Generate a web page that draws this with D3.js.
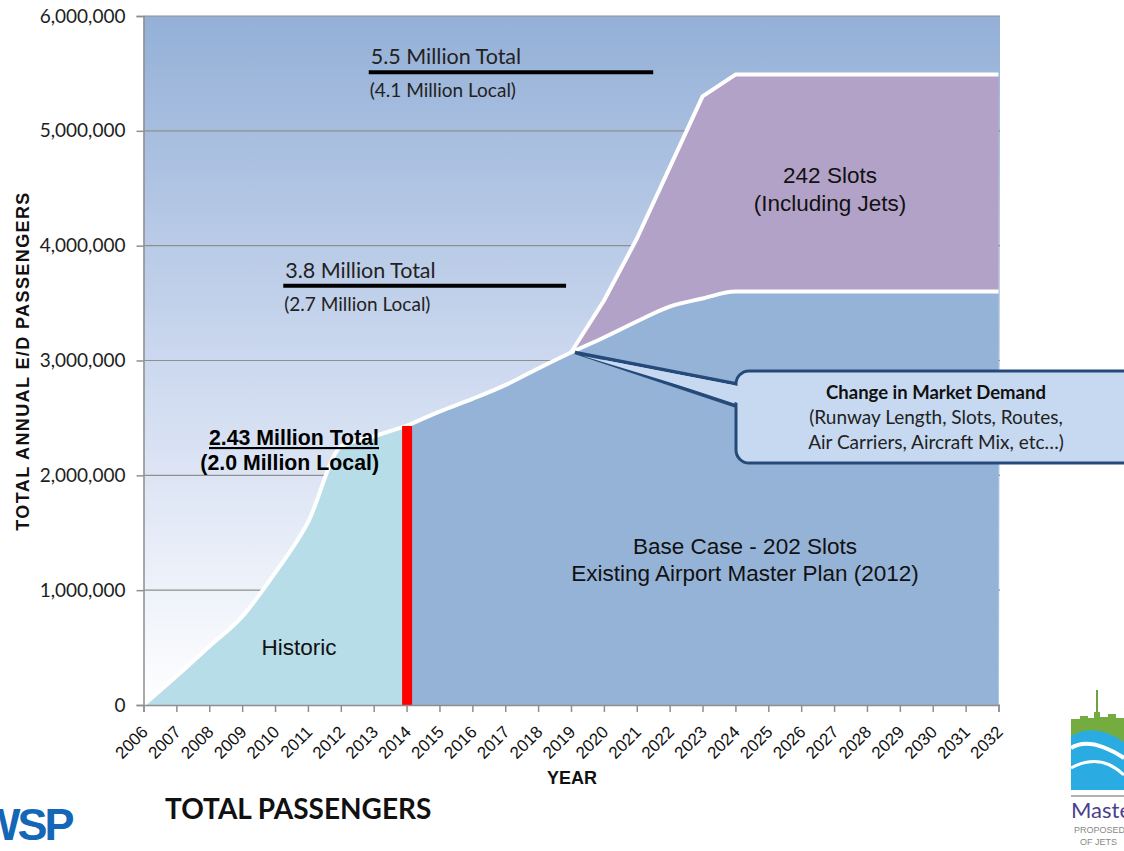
<!DOCTYPE html>
<html>
<head>
<meta charset="utf-8">
<script src="https://cdn.jsdelivr.net/npm/d3@7/dist/d3.min.js"></script>
<style>
  html, body { margin: 0; padding: 0; background: #fff; }
  svg { display: block; }
</style>
</head>
<body>
<svg id="chart" width="1124" height="851"></svg>
<script>
// ---------------- DATA ----------------
const years = d3.range(2006, 2033);                       // tick labels 2006..2032
const yTicks = [0, 1000000, 2000000, 3000000, 4000000, 5000000, 6000000];

const historicYears = [2006, 2007, 2008, 2009, 2010, 2011, 2012, 2013, 2014];
const historicValues = [0, 250000, 510000, 770000, 1150000, 1590000, 2250000, 2340000, 2430000];

const baseYears = [2014, 2015, 2016, 2017, 2018, 2019, 2020, 2021, 2022, 2023, 2024, 2025, 2026, 2027, 2028, 2029, 2030, 2031, 2032];
const baseValues = [2430000, 2555000, 2665000, 2785000, 2930000, 3070000, 3200000, 3340000, 3470000, 3540000, 3600000, 3600000, 3600000, 3600000, 3600000, 3600000, 3600000, 3600000, 3600000];

const jetsYears = [2019, 2020, 2021, 2022, 2023, 2024, 2025, 2026, 2027, 2028, 2029, 2030, 2031, 2032];
const jetsValues = [3070000, 3520000, 4060000, 4680000, 5300000, 5490000, 5490000, 5490000, 5490000, 5490000, 5490000, 5490000, 5490000, 5490000];

const markerYear = 2014;
const markerValue = 2430000;

// reference lines (annotations): [startYear, endYear, value]
const refLine55 = [2012.85, 2021.5, 5510000];
const refLine38 = [2010.25, 2018.85, 3650000];

// ---------------- SCALES ----------------
const svg = d3.select("#chart");
const x = d3.scaleLinear().domain([2006, 2032]).range([143.5, 998.5]);
const y = d3.scaleLinear().domain([0, 6000000]).range([705, 16]);

const colors = {
  historic: "#b7dde8",
  base: "#95b3d7",
  jets: "#b3a2c7",
  grid: "#8f8f8f",
  axis: "#8f8f8f",
  callFill: "#c6d9f1",
  callStroke: "#254a7a"
};

// background gradient
const defs = svg.append("defs");
const grad = defs.append("linearGradient").attr("id", "bg").attr("x1", 0).attr("y1", 0).attr("x2", 0).attr("y2", 1);
grad.append("stop").attr("offset", "0%").attr("stop-color", "#94b0d7");
grad.append("stop").attr("offset", "55%").attr("stop-color", "#d1dcf1");
grad.append("stop").attr("offset", "100%").attr("stop-color", "#ffffff");

svg.append("rect")
  .attr("x", x(2006)).attr("y", y(6000000))
  .attr("width", x(2032) - x(2006) + 1.5).attr("height", y(0) - y(6000000))
  .attr("fill", "url(#bg)");

// gridlines
svg.append("g").selectAll("line").data(yTicks).join("line")
  .attr("x1", x(2006)).attr("x2", x(2032) + 1.5)
  .attr("y1", d => y(d)).attr("y2", d => y(d))
  .attr("stroke", colors.grid).attr("stroke-width", 1.2);

// ---------------- AREAS ----------------
const hist = historicYears.map((yr, i) => ({ yr, v: historicValues[i] }));
const base = baseYears.map((yr, i) => ({ yr, v: baseValues[i] }));
const jets = jetsYears.map((yr, i) => ({ yr, v: jetsValues[i], lo: baseValues[baseYears.indexOf(yr)] }));

const areaHist = d3.area().x(d => x(d.yr)).y0(y(0)).y1(d => y(d.v)).curve(d3.curveMonotoneX);
const areaBase = d3.area().x(d => x(d.yr)).y0(y(0)).y1(d => y(d.v)).curve(d3.curveMonotoneX);
const areaJets = d3.area().x(d => x(d.yr)).y0(d => y(d.lo)).y1(d => y(d.v)).curve(d3.curveLinear);

svg.append("path").datum(hist).attr("d", areaHist).attr("fill", colors.historic);
svg.append("path").datum(base).attr("d", areaBase).attr("fill", colors.base);
svg.append("path").datum(jets).attr("d", areaJets).attr("fill", colors.jets);
// keep lower edge of the jets band smooth like the base line
svg.append("path").datum(base.filter(d => d.yr >= 2019))
  .attr("d", d3.area().x(d => x(d.yr)).y0(y(0)).y1(d => y(d.v)).curve(d3.curveMonotoneX))
  .attr("fill", colors.base);

const lineV = d3.line().x(d => x(d.yr)).y(d => y(d.v)).curve(d3.curveMonotoneX);
const lineJ = d3.line().x(d => x(d.yr)).y(d => y(d.v)).curve(d3.curveLinear);
const whiteLine = (data, gen) => svg.append("path").datum(data).attr("d", gen)
  .attr("fill", "none").attr("stroke", "#ffffff").attr("stroke-width", 4).attr("stroke-linejoin", "round");
whiteLine(hist, lineV);
whiteLine(base, lineV);
whiteLine(jets, lineJ);

// red marker bar at 2014
svg.append("rect")
  .attr("x", x(markerYear) - 4.5).attr("width", 10)
  .attr("y", y(markerValue)).attr("height", y(0) - y(markerValue))
  .attr("fill", "#ff0000");

// ---------------- AXES ----------------
const yAxis = svg.append("g").attr("transform", `translate(${x(2006)},0)`)
  .call(d3.axisLeft(y).tickValues(yTicks).tickFormat(d3.format(",")).tickSize(7).tickPadding(11));
yAxis.select(".domain").attr("stroke", colors.axis).attr("stroke-width", 1.5);
yAxis.selectAll(".tick line").attr("stroke", colors.axis).attr("stroke-width", 1.5);
yAxis.selectAll(".tick text").attr("font-family", "Lato, 'Open Sans', sans-serif").attr("font-size", 19).attr("fill", "#1e1e1e");

const xAxis = svg.append("g").attr("transform", `translate(0,${y(0)})`)
  .call(d3.axisBottom(x).tickValues(years).tickFormat(d => String(d)).tickSize(7));
xAxis.select(".domain").attr("stroke", colors.axis).attr("stroke-width", 1.5);
xAxis.selectAll(".tick line").attr("stroke", colors.axis).attr("stroke-width", 1.5);
xAxis.selectAll(".tick text")
  .attr("font-family", "'Liberation Sans', Arial, sans-serif").attr("font-size", 17).attr("fill", "#111")
  .attr("text-anchor", "end").attr("y", 0).attr("dy", 0)
  .attr("transform", "translate(5,28) rotate(-45)");

// axis titles
svg.append("text")
  .attr("transform", `translate(29,${(190 + 532) / 2}) rotate(-90)`)
  .attr("text-anchor", "middle")
  .attr("font-family", "'Liberation Sans', Arial, sans-serif").attr("font-weight", "bold")
  .attr("font-size", 18).attr("letter-spacing", 1.4).attr("fill", "#111")
  .text("TOTAL ANNUAL E/D PASSENGERS");

svg.append("text")
  .attr("x", 572).attr("y", 784).attr("text-anchor", "middle")
  .attr("font-family", "'Liberation Sans', Arial, sans-serif").attr("font-weight", "bold")
  .attr("font-size", 18).attr("fill", "#111").text("YEAR");

// ---------------- ANNOTATIONS ----------------
const calibri = "Lato, 'Open Sans', sans-serif";
const arial = "'Liberation Sans', Arial, sans-serif";

function refLine(r, title, sub) {
  svg.append("line").attr("x1", x(r[0])).attr("x2", x(r[1])).attr("y1", y(r[2])).attr("y2", y(r[2]))
    .attr("stroke", "#000").attr("stroke-width", 4);
  svg.append("text").attr("x", x(r[0]) + 2).attr("y", y(r[2]) - 8)
    .attr("font-family", calibri).attr("font-size", 21.5).attr("fill", "#222").text(title);
  svg.append("text").attr("x", x(r[0]) + 1).attr("y", y(r[2]) + 25)
    .attr("font-family", calibri).attr("font-size", 19).attr("fill", "#222").text(sub);
}
refLine(refLine55, "5.5 Million Total", "(4.1 Million Local)");
refLine(refLine38, "3.8 Million Total", "(2.7 Million Local)");

svg.append("text").attr("x", 379).attr("y", 445).attr("text-anchor", "end")
  .attr("font-family", arial).attr("font-weight", "bold").attr("font-size", 21.3)
  .attr("text-decoration", "underline").attr("fill", "#000").text("2.43 Million Total");
svg.append("text").attr("x", 379).attr("y", 470).attr("text-anchor", "end")
  .attr("font-family", arial).attr("font-weight", "bold").attr("font-size", 21.3)
  .attr("fill", "#000").text("(2.0 Million Local)");

svg.append("text").attr("x", 299).attr("y", 655).attr("text-anchor", "middle")
  .attr("font-family", arial).attr("font-size", 22.5).attr("fill", "#111").text("Historic");

svg.append("text").attr("x", 745).attr("y", 554).attr("text-anchor", "middle")
  .attr("font-family", arial).attr("font-size", 22.5).attr("fill", "#111").text("Base Case - 202 Slots");
svg.append("text").attr("x", 745).attr("y", 581).attr("text-anchor", "middle")
  .attr("font-family", arial).attr("font-size", 22.5).attr("fill", "#111").text("Existing Airport Master Plan (2012)");

svg.append("text").attr("x", 830).attr("y", 183).attr("text-anchor", "middle")
  .attr("font-family", arial).attr("font-size", 22.5).attr("fill", "#111").text("242 Slots");
svg.append("text").attr("x", 830).attr("y", 211).attr("text-anchor", "middle")
  .attr("font-family", arial).attr("font-size", 22.5).attr("fill", "#111").text("(Including Jets)");

// callout
const tipX = x(2019) + 4, tipY = y(3070000);
const bx = 736, by = 371, bw = 420, bh = 92;
const tail = [[tipX, tipY], [bx + 6, by + 14], [bx + 6, by + 37]];
svg.append("polygon").attr("points", tail.map(p => p.join(",")).join(" "))
  .attr("fill", colors.callFill).attr("stroke", colors.callStroke).attr("stroke-width", 3.5).attr("stroke-linejoin", "miter");
svg.append("rect").attr("x", bx).attr("y", by).attr("width", bw).attr("height", bh).attr("rx", 13)
  .attr("fill", colors.callFill).attr("stroke", colors.callStroke).attr("stroke-width", 3);
svg.append("polygon").attr("points", [[tipX + 8, tipY + 3.5], [bx + 10, by + 16.5], [bx + 10, by + 34.5]].map(p => p.join(",")).join(" "))
  .attr("fill", colors.callFill);

const cx = 936;
svg.append("text").attr("x", cx).attr("y", 399).attr("text-anchor", "middle")
  .attr("font-family", calibri).attr("font-weight", "bold").attr("font-size", 18.5).attr("fill", "#111")
  .text("Change in Market Demand");
svg.append("text").attr("x", cx).attr("y", 424).attr("text-anchor", "middle")
  .attr("font-family", calibri).attr("font-size", 19).attr("fill", "#222")
  .text("(Runway Length, Slots, Routes,");
svg.append("text").attr("x", cx).attr("y", 449).attr("text-anchor", "middle")
  .attr("font-family", calibri).attr("font-size", 19).attr("fill", "#222")
  .text("Air Carriers, Aircraft Mix, etc…)");

// footer title
svg.append("text").attr("x", 165).attr("y", 819)
  .attr("font-family", calibri).attr("font-weight", "bold").attr("font-size", 28).attr("fill", "#111")
  .text("TOTAL PASSENGERS");

// WSP logo (cropped at left, as in the source slide)
svg.append("text").attr("x", -22).attr("y", 840)
  .attr("font-family", arial).attr("font-weight", "bold").attr("font-size", 45)
  .attr("letter-spacing", -3).attr("fill", "#1466b6").text("WSP");

// right logo (cropped at right, as in the source slide)
const lg = svg.append("g");
lg.append("line").attr("x1", 1097).attr("x2", 1097).attr("y1", 690).attr("y2", 720).attr("stroke", "#6da33c").attr("stroke-width", 2);
lg.append("path").attr("d", "M1071,719 L1080,719 L1080,716 L1088,716 L1088,718 L1094,718 L1094,712 L1100,712 L1100,717 L1108,717 L1108,714 L1116,714 L1116,718 L1124,718 L1124,742 L1071,742 Z").attr("fill", "#75ac3f");
lg.append("path").attr("d", "M1071,736 Q1095,722 1124,742 L1124,790 L1071,790 Z").attr("fill", "#2aace2");
lg.append("path").attr("d", "M1071,748 Q1090,736 1124,758").attr("fill", "none").attr("stroke", "#fff").attr("stroke-width", 4);
lg.append("path").attr("d", "M1071,768 Q1100,752 1124,775").attr("fill", "none").attr("stroke", "#fff").attr("stroke-width", 3);
lg.append("line").attr("x1", 1071).attr("x2", 1124).attr("y1", 796).attr("y2", 796).attr("stroke", "#999").attr("stroke-width", 1.5);
lg.append("text").attr("x", 1071).attr("y", 818).attr("font-family", calibri).attr("font-size", 22).attr("fill", "#4b3f8f").text("Master");
lg.append("text").attr("x", 1074).attr("y", 833).attr("font-family", arial).attr("font-size", 9).attr("fill", "#888").text("PROPOSED");
lg.append("text").attr("x", 1080).attr("y", 845).attr("font-family", arial).attr("font-size", 9).attr("fill", "#888").text("OF JETS");
</script>
</body>
</html>
